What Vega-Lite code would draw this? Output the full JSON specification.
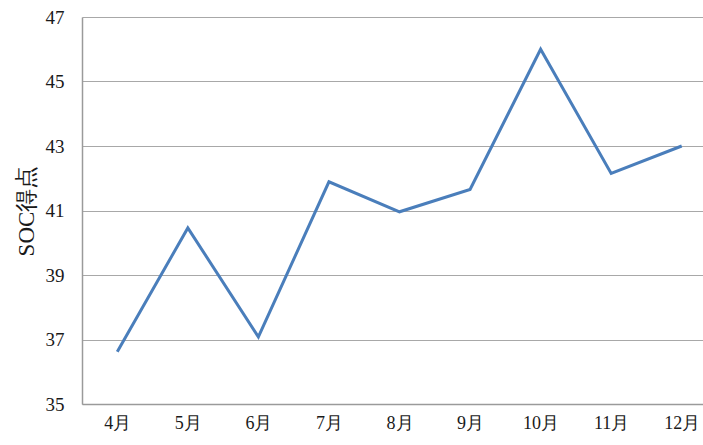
{
  "$schema": "https://vega.github.io/schema/vega-lite/v6.json",
  "width": 635,
  "height": 387,
  "autosize": "none",
  "padding": {"left": 82, "top": 17, "right": 0, "bottom": 41},
  "background": "white",
  "config": {"view": {"stroke": null}},
  "data": {
    "values": [
      {"month": "4月", "score": 36.62},
      {"month": "5月", "score": 40.46},
      {"month": "6月", "score": 37.08},
      {"month": "7月", "score": 41.89},
      {"month": "8月", "score": 40.96},
      {"month": "9月", "score": 41.65},
      {"month": "10月", "score": 46.0},
      {"month": "11月", "score": 42.15},
      {"month": "12月", "score": 43.0}
    ]
  },
  "mark": {"type": "line", "color": "#4a7ebb", "strokeWidth": 3, "strokeJoin": "miter"},
  "encoding": {
    "x": {
      "field": "month",
      "type": "ordinal",
      "sort": null,
      "scale": {"type": "point", "padding": 0.5},
      "axis": {
        "title": null,
        "labelAngle": 0,
        "labelFont": "'Liberation Serif', 'DejaVu Serif', serif",
        "labelFontSize": 18,
        "labelColor": "#1a1a1a",
        "labelPadding": 10,
        "ticks": false,
        "domainColor": "#9a9a9a",
        "domainWidth": 1.5,
        "grid": false
      }
    },
    "y": {
      "field": "score",
      "type": "quantitative",
      "scale": {"domain": [35, 47], "nice": false, "zero": false},
      "axis": {
        "values": [35, 37, 39, 41, 43, 45, 47],
        "title": "SOC得点",
        "titleFont": "'Liberation Serif', 'DejaVu Serif', serif",
        "titleFontSize": 23,
        "titleFontWeight": "normal",
        "titleColor": "#1a1a1a",
        "titlePadding": 7,
        "labelFont": "'Liberation Serif', 'DejaVu Serif', serif",
        "labelFontSize": 19,
        "labelColor": "#1a1a1a",
        "labelPadding": 18,
        "ticks": false,
        "domainColor": "#9a9a9a",
        "domainWidth": 1.5,
        "grid": true,
        "gridColor": "#a8a8a8",
        "gridWidth": 1.2
      }
    }
  }
}
